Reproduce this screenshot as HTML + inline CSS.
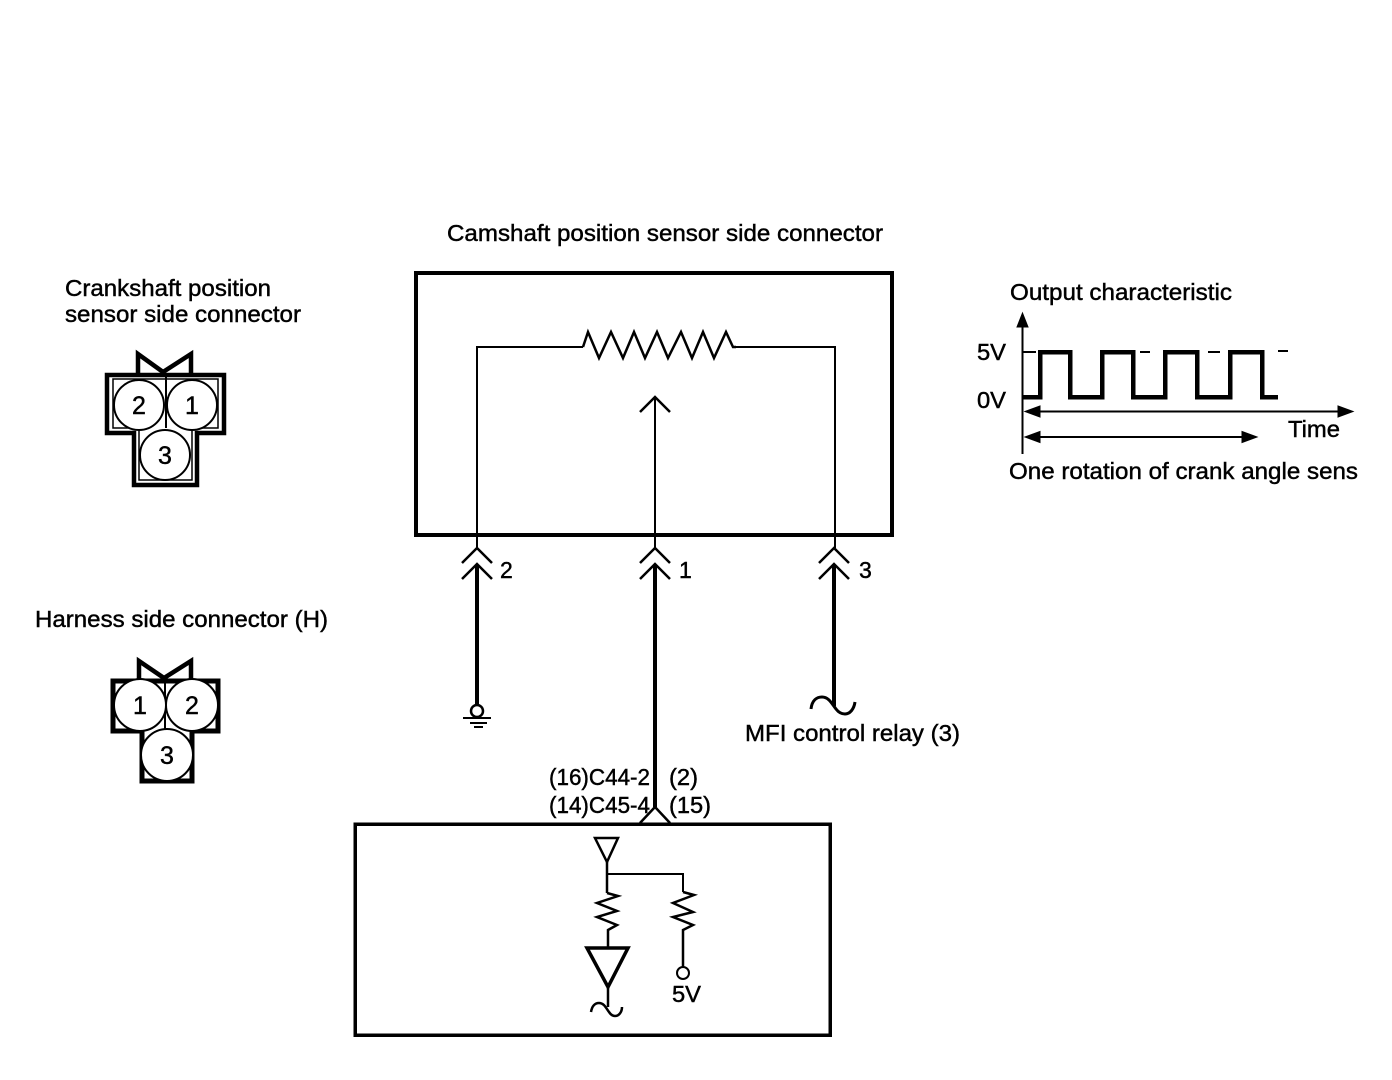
<!DOCTYPE html>
<html><head><meta charset="utf-8"><style>
html,body{margin:0;padding:0;background:#fff;width:1392px;height:1080px;overflow:hidden}
svg{display:block}
text{font-family:"Liberation Sans",sans-serif;font-size:23px;fill:#000;stroke:#000;stroke-width:.45px}
.d{font-size:25px}
path,rect,circle,polyline,line{fill:none;stroke:#000;stroke-linejoin:miter}
.c{shape-rendering:crispEdges}
</style></head><body>
<svg width="1392" height="1080" viewBox="0 0 1392 1080" xmlns="http://www.w3.org/2000/svg">
<rect width="1392" height="1080" style="fill:#fff;stroke:none"/>

<text x="447" y="241" textLength="436" lengthAdjust="spacingAndGlyphs">Camshaft position sensor side connector</text>
<text x="65" y="296" textLength="206" lengthAdjust="spacingAndGlyphs">Crankshaft position</text>
<text x="65" y="322" textLength="236" lengthAdjust="spacingAndGlyphs">sensor side connector</text>
<text x="35" y="627" textLength="293" lengthAdjust="spacingAndGlyphs">Harness side connector (H)</text>
<text x="1010" y="300" textLength="222" lengthAdjust="spacingAndGlyphs">Output characteristic</text>
<text x="977" y="360" textLength="29" lengthAdjust="spacingAndGlyphs">5V</text>
<text x="977" y="408" textLength="29" lengthAdjust="spacingAndGlyphs">0V</text>
<text x="1288" y="437" textLength="52" lengthAdjust="spacingAndGlyphs">Time</text>
<text x="1009" y="479" textLength="349" lengthAdjust="spacingAndGlyphs">One rotation of crank angle sens</text>
<text x="500" y="578">2</text>
<text x="679" y="578">1</text>
<text x="859" y="578">3</text>
<text x="745" y="741" textLength="215" lengthAdjust="spacingAndGlyphs">MFI control relay (3)</text>
<text x="549" y="785" textLength="101" lengthAdjust="spacingAndGlyphs">(16)C44-2</text>
<text x="669" y="785" textLength="29" lengthAdjust="spacingAndGlyphs">(2)</text>
<text x="549" y="813" textLength="101" lengthAdjust="spacingAndGlyphs">(14)C45-4</text>
<text x="669" y="813" textLength="42" lengthAdjust="spacingAndGlyphs">(15)</text>
<text x="672" y="1002" textLength="29" lengthAdjust="spacingAndGlyphs">5V</text>

<!-- crankshaft connector -->
<path stroke-width="4.5" d="M107 375H224V433H197V485H134V433H107Z"/>
<path stroke-width="4.5" d="M138 375V354L163 372L191 354V375"/>
<path stroke-width="1.5" d="M113 379H218V428H192V480H139V428H113Z"/>
<line x1="166" y1="375" x2="166" y2="428" stroke-width="2"/>
<circle cx="139" cy="405" r="25" stroke-width="2" style="fill:#fff"/>
<circle cx="192" cy="405" r="25" stroke-width="2" style="fill:#fff"/>
<circle cx="165" cy="455" r="25" stroke-width="2" style="fill:#fff"/>
<text class="d" x="139" y="414" text-anchor="middle">2</text>
<text class="d" x="192" y="414" text-anchor="middle">1</text>
<text class="d" x="165" y="464" text-anchor="middle">3</text>

<!-- harness connector -->
<path stroke-width="5" d="M113 681H218V731H192V781H142V731H113Z"/>
<path stroke-width="4.5" d="M139 681V661L164 678L191 661V681"/>
<line x1="165" y1="678" x2="165" y2="732" stroke-width="2"/>
<circle cx="140" cy="705" r="26" stroke-width="2" style="fill:#fff"/>
<circle cx="192" cy="705" r="26" stroke-width="2" style="fill:#fff"/>
<circle cx="167" cy="755" r="26" stroke-width="2" style="fill:#fff"/>
<text class="d" x="140" y="714" text-anchor="middle">1</text>
<text class="d" x="192" y="714" text-anchor="middle">2</text>
<text class="d" x="167" y="764" text-anchor="middle">3</text>

<!-- main box -->
<rect x="416" y="273" width="476" height="262" stroke-width="4" class="c"/>
<path stroke-width="2" class="c" d="M477 548V347H583"/>
<path stroke-width="2.5" d="M583 347L588 332L599 358L611 332L623 358L634 332L645 358L657 332L668 358L681 332L692 358L703 332L714 358L726 332L733 347H736"/>
<path stroke-width="2" class="c" d="M736 347H835V548"/>
<line x1="655" y1="397" x2="655" y2="548" stroke-width="2" class="c"/>
<path stroke-width="2.5" d="M640 412L655 397L670 412"/>

<!-- connector chevrons -->
<path stroke-width="2.5" d="M462 563L477 548L492 563M462 579L477 564L492 579"/>
<path stroke-width="2.5" d="M640 563L655 548L670 563M640 579L655 564L670 579"/>
<path stroke-width="2.5" d="M819 563L834 548L849 563M819 579L834 564L849 579"/>
<line x1="477" y1="565" x2="477" y2="705" stroke-width="4" class="c"/>
<line x1="655" y1="565" x2="655" y2="807" stroke-width="4" class="c"/>
<line x1="834" y1="565" x2="834" y2="706" stroke-width="4" class="c"/>

<!-- ground -->
<circle cx="477" cy="711" r="6" stroke-width="2.5"/>
<path stroke-width="2" class="c" d="M463 718H491M470 723H487M474 727H483"/>

<!-- relay tilde -->
<path stroke-width="3" d="M811 709C812 700 817 697 822 697C829 697 832 704 836 709C839 713 842 714 845 714C850 714 854 709 855 702"/>

<!-- ecu box -->
<rect x="355" y="824" width="475" height="211" stroke-width="3.5" class="c"/>
<path stroke-width="2.5" d="M640 823L655 807L670 823"/>
<path stroke-width="2.5" d="M595 838H618L607 862Z"/>
<line x1="607" y1="862" x2="607" y2="893" stroke-width="2.5"/>
<path stroke-width="2" class="c" d="M607 874H683V892"/>
<path stroke-width="2.5" d="M607 893L618 896L597 903L617 911L597 917L617 925L608 930V948"/>
<path stroke-width="3.5" d="M587 948H628L608 987Z"/>
<line x1="608" y1="987" x2="608" y2="1007" stroke-width="2.5"/>
<path stroke-width="2.5" d="M591 1012C592 1006 595 1003 599 1003C604 1003 606 1008 609 1012C611 1015 613 1016 615 1016C619 1016 622 1012 622 1007"/>
<path stroke-width="2.5" d="M683 892L694 895L673 903L693 912L673 917L693 925L683 930V967"/>
<circle cx="683" cy="973" r="6" stroke-width="2"/>

<!-- chart -->
<line x1="1022.5" y1="325" x2="1022.5" y2="454" stroke-width="2" class="c"/>
<path style="fill:#000" stroke-width="1" d="M1022.5 313L1028 327H1017Z"/>
<path stroke-width="4.5" class="c" d="M1022 397H1040V352H1070V397H1102V352H1133V397H1165V352H1197V397H1230V352H1262V397H1278"/>
<path stroke-width="2" class="c" d="M1022 352H1036M1140 352H1150M1208 352H1220M1278 351H1288"/>
<line x1="1030" y1="411.5" x2="1345" y2="411.5" stroke-width="2" class="c"/>
<path style="fill:#000" stroke-width="1" d="M1025 411.5L1040 406V417ZM1353 411.5L1338 406V417Z"/>
<line x1="1030" y1="437" x2="1250" y2="437" stroke-width="2" class="c"/>
<path style="fill:#000" stroke-width="1" d="M1025 437L1040 431.5V442.5ZM1257 437L1242 431.5V442.5Z"/>
</svg>
</body></html>
